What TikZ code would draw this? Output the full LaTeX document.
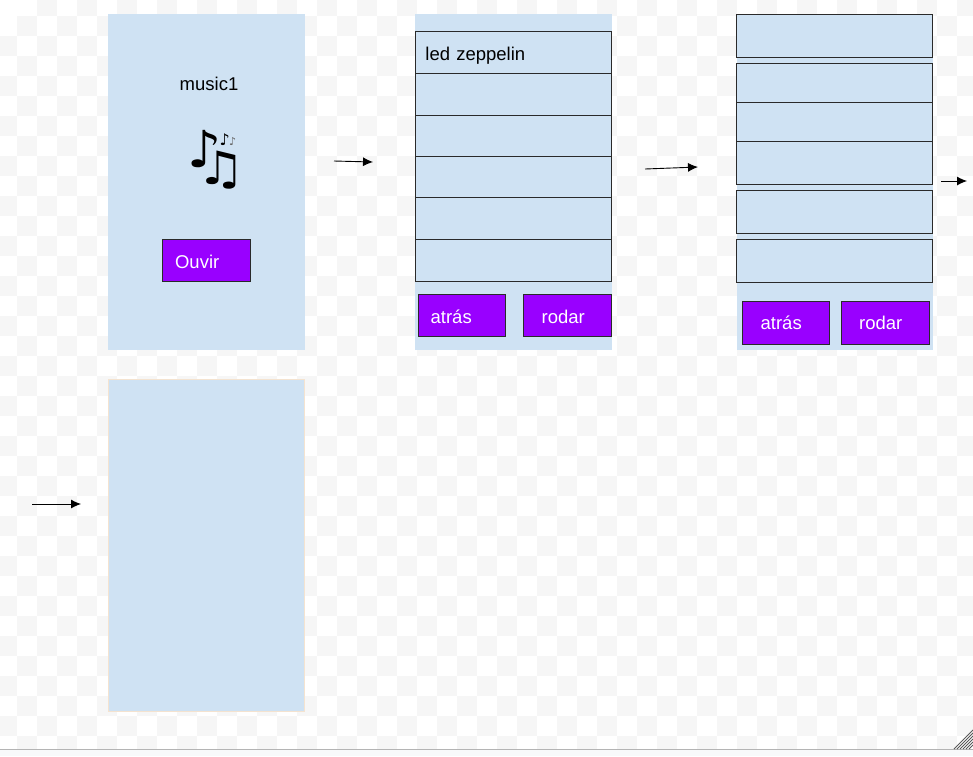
\documentclass[tikz,border=0pt]{standalone}
\usepackage{fontspec}
\usepackage{xcolor}
\usetikzlibrary{arrows.meta,positioning}
\setmainfont{Liberation Sans}
\newfontfamily\notefont{DejaVu Sans}
\definecolor{PanelBlue}{HTML}{CFE2F3}
\definecolor{BtnPurple}{HTML}{9900FF}
\definecolor{CheckGray}{HTML}{F6F6F6}
\definecolor{EdgePeach}{HTML}{F4E3D0}
\definecolor{BarGray}{HTML}{F8F9FA}
\definecolor{RuleGray}{HTML}{B4B4B4}
\definecolor{LineDark}{HTML}{2A2A2A}
\newcommand{\notepiece}[5]{\rlap{\hspace*{#1pt}\raisebox{#2pt}{\fontsize{#3}{#3}\selectfont\scalebox{#4}[1]{#5}}}}
\newcommand{\dropby}[1]{\rule{0pt}{#1pt}}
\begin{document}
\begin{tikzpicture}[
    x=1pt, y=-1pt,
    font=\fontsize{18.5}{22}\selectfont,
    panel/.style={rectangle, fill=PanelBlue, anchor=north west, inner sep=0pt, minimum width=197pt},
    rowbox/.style={rectangle, draw=LineDark, fill=PanelBlue, line width=0.9pt, anchor=north west, inner sep=0pt, minimum width=196pt},
    btn/.style={rectangle, draw=LineDark, fill=BtnPurple, text=white, line width=0.9pt, anchor=north west, inner sep=0pt, minimum width=87.5pt, minimum height=42.5pt},
    notes/.style={inner sep=0pt, anchor=base west, font=\notefont},
    arrow/.style={-{Latex[length=10pt,width=9pt]}, line width=0.9pt, draw=black}
]
\useasboundingbox (0,0) rectangle (973,756);
% checker background
\foreach \i in {0,...,49}
  \foreach \j in {-1,...,36}
    {\pgfmathparse{int(mod(\i+\j,2))}
     \ifnum\pgfmathresult=1
       \fill[CheckGray] (-3+20*\i,16+20*\j) rectangle ++(20,20);
     \fi}
\fill[BarGray] (0,749) rectangle (973,756);
\draw[RuleGray, line width=0.8pt] (0,749.5) -- (973,749.5);
\foreach \d in {0,3,6,9,12,15}
  \draw[black!65, line width=0.9pt] (973,730+\d) -- (954+\d,749);

% panels
\node[panel, minimum height=336pt] (screen1) at (108,14) {};
\node[panel, minimum height=336pt] (screen2) at (415,14) {};
\node[panel, minimum height=336pt, minimum width=196pt] (screen3) at (736.5,14) {};
\node[panel, draw=EdgePeach, line width=1pt, minimum width=196pt, minimum height=332pt] (screen4) at (108,379) {};

% first screen
\node (title) at (209,84) {music1};
\node[notes] (notes) at (187,170) {\notepiece{0}{3}{51}{1.05}{♪}\notepiece{9}{-14}{46}{1.2}{♫}\notepiece{32}{25}{16}{1}{♪}\notepiece{41.5}{25}{11}{1}{\textcolor{black!60}{♪}}};
\node[btn] (ouvir) at (162,238.5) {\hspace*{-18pt}\dropby{17}Ouvir};

% list screen
\node[rowbox, minimum height=42pt, text width=176pt, align=left] (row1) at (415,30.5) {\dropby{20}led zeppelin};
\node[rowbox, minimum height=42pt] (row2) at (415,72.5) {};
\node[rowbox, minimum height=41pt] (row3) at (415,114.5) {};
\node[rowbox, minimum height=41pt] (row4) at (415,155.5) {};
\node[rowbox, minimum height=42pt] (row5) at (415,196.5) {};
\node[rowbox, minimum height=42pt] (row6) at (415,238.5) {};
\node[btn] (atras1) at (417.5,293.5) {\hspace*{-21pt}\dropby{17}atrás};
\node[btn] (rodar1) at (523,293.5) {\hspace*{-8pt}\dropby{17}rodar};

% scrolled screen
\node[rowbox, minimum height=43pt] (item1) at (736,13.5) {};
\node[rowbox, minimum height=39.5pt] (item2) at (736,62.5) {};
\node[rowbox, minimum height=39pt] (item3) at (736,102) {};
\node[rowbox, minimum height=42.5pt] (item4) at (736,141) {};
\node[rowbox, minimum height=43pt] (item5) at (736,189.5) {};
\node[rowbox, minimum height=43pt] (item6) at (736,238.5) {};
\node[btn] (atras2) at (741.5,301) {\hspace*{-9pt}atrás};
\node[btn] (rodar2) at (841,301) {\hspace*{-9pt}rodar};

% connectors
\coordinate (a1s) at (334,161);
\coordinate (a1e) at (373,162);
\coordinate (a2s) at (645,169);
\coordinate (a2e) at (698,167);
\coordinate (a3s) at (941,181);
\coordinate (a3e) at (967,181);
\coordinate (a4s) at (32,504);
\coordinate (a4e) at (81,504);
\draw[arrow] (a1s) -- (a1e);
\draw[arrow] (a2s) -- (a2e);
\draw[arrow] (a3s) -- (a3e);
\draw[arrow] (a4s) -- (a4e);
\end{tikzpicture}
\end{document}
